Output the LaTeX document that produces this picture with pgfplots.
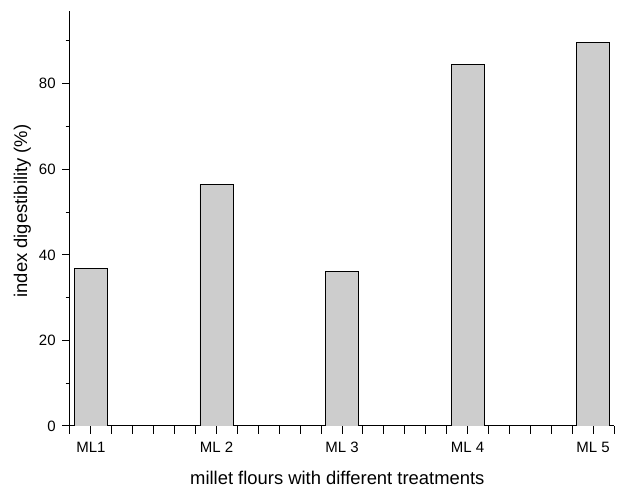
\documentclass[border=0pt]{standalone}
\usepackage{fontspec}
\setmainfont{Liberation Sans}
\usepackage{pgfplots}
\pgfplotsset{compat=1.18}
\definecolor{barfill}{RGB}{205,205,205}
\begin{document}
\begin{tikzpicture}
\begin{axis}[name=ax, scale only axis, width=544pt, height=415pt,
 xmin=0.833333, xmax=5.166667, ymin=0, ymax=97,
 ybar, bar width=33pt,
 axis lines=left, axis line style={-, line width=1pt, black},
 tick align=outside, major tick length=7.8pt, minor tick length=4.3pt,
 every tick/.style={black, line width=1pt},
 xtick={1,2,3,4,5}, xticklabels={ML1, ML 2, ML 3, ML 4, ML 5},
 extra x ticks={0.833333,1.166667,1.333333,1.5,1.666667,1.833333,2.166667,2.333333,2.5,2.666667,2.833333,3.166667,3.333333,3.5,3.666667,3.833333,4.166667,4.333333,4.5,4.666667,4.833333,5.166667},
 extra x tick labels={},
 ytick={0,20,40,60,80}, minor ytick={10,30,50,70,90},
 /pgf/number format/assume math mode=true,
 tick label style={font=\fontsize{15}{18}\selectfont},
 xticklabel style={yshift=-5pt},
 yticklabel style={xshift=-3pt},
 label style={font=\fontsize{18.4}{22}\selectfont},
 xlabel={millet flours with different treatments},
 ylabel={index digestibility (\%)},
 xlabel style={at={(axis description cs:0.2145,-0.1398)}, anchor=base west},
 ylabel style={at={(axis description cs:-0.079,0.518)}, anchor=base},
]
\addplot[fill=barfill, draw=black, line width=0.9pt] coordinates {(1,36.8) (2,56.5) (3,36.2) (4,84.4) (5,89.6)};
\end{axis}
\pgfresetboundingbox
\path ([shift={(-70pt,-62pt)}]ax.south west) rectangle ([shift={(3pt,11pt)}]ax.north east);
\end{tikzpicture}
\end{document}
